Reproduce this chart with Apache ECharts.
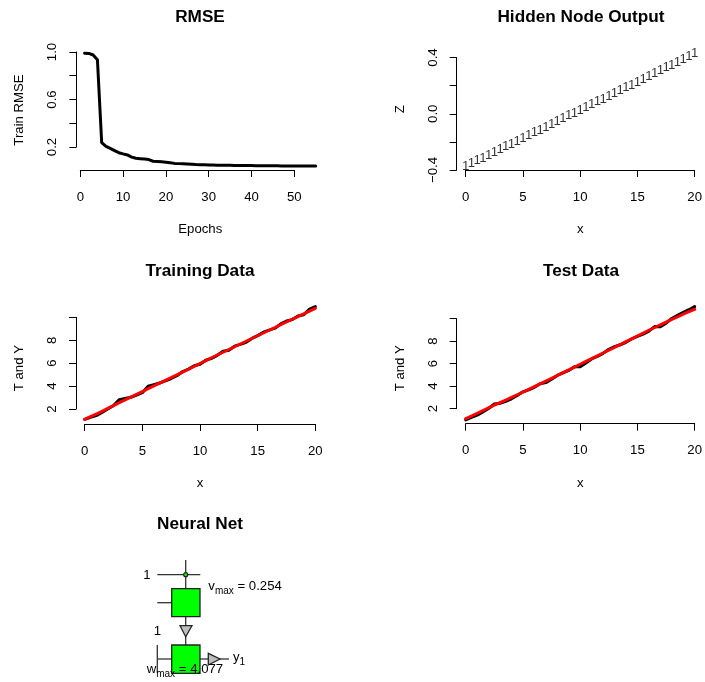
<!DOCTYPE html>
<html><head><meta charset="utf-8">
<style>html,body{margin:0;padding:0;background:#fff}#c{width:705px;height:682px}</style>
<script src="https://cdn.jsdelivr.net/npm/echarts@6/dist/echarts.min.js"></script>
</head><body><div id="c"></div>
<script>
const rmseValues=[0.99,0.988,0.975,0.935,0.236,0.205,0.188,0.17,0.152,0.142,0.133,0.115,0.105,0.102,0.098,0.094,0.08,0.078,0.075,0.072,0.068,0.062,0.06,0.058,0.056,0.054,0.052,0.051,0.05,0.049,0.048,0.047,0.047,0.046,0.046,0.045,0.045,0.044,0.044,0.044,0.043,0.043,0.043,0.042,0.042,0.042,0.041,0.041,0.041,0.041,0.04,0.04,0.04,0.04,0.04];
const xHalfSteps=[0,0.5,1,1.5,2,2.5,3,3.5,4,4.5,5,5.5,6,6.5,7,7.5,8,8.5,9,9.5,10,10.5,11,11.5,12,12.5,13,13.5,14,14.5,15,15.5,16,16.5,17,17.5,18,18.5,19,19.5,20];
const hiddenZ=[-0.375,-0.355,-0.335,-0.315,-0.295,-0.275,-0.255,-0.235,-0.215,-0.195,-0.175,-0.155,-0.135,-0.115,-0.095,-0.075,-0.055,-0.035,-0.015,0.005,0.025,0.045,0.065,0.085,0.105,0.125,0.145,0.165,0.185,0.205,0.225,0.246,0.266,0.286,0.306,0.327,0.347,0.367,0.388,0.408,0.43];
const trainT=[1.10,1.28,1.42,1.70,2.00,2.30,2.82,2.92,3.02,3.22,3.42,3.98,4.12,4.27,4.45,4.66,4.90,5.27,5.48,5.78,5.90,6.25,6.42,6.68,7.03,7.12,7.48,7.64,7.82,8.16,8.40,8.70,8.88,9.05,9.42,9.68,9.80,10.12,10.22,10.72,10.93];
const trainY=[1.10,1.33,1.56,1.80,2.05,2.30,2.55,2.80,3.03,3.27,3.52,3.77,4.02,4.26,4.50,4.74,4.98,5.22,5.47,5.72,5.97,6.22,6.47,6.71,6.95,7.19,7.43,7.67,7.91,8.15,8.39,8.63,8.87,9.11,9.36,9.60,9.83,10.06,10.29,10.53,10.78];
const testT=[1.00,1.22,1.42,1.72,2.02,2.42,2.48,2.65,2.88,3.18,3.50,3.68,3.90,4.22,4.32,4.62,4.96,5.18,5.40,5.72,5.72,6.06,6.42,6.65,6.92,7.28,7.52,7.68,7.90,8.20,8.42,8.62,8.90,9.30,9.28,9.60,10.02,10.30,10.56,10.80,11.07];
const testY=[1.12,1.35,1.59,1.83,2.07,2.31,2.54,2.77,3.00,3.24,3.48,3.72,3.96,4.20,4.45,4.70,4.95,5.20,5.45,5.70,5.95,6.20,6.45,6.70,6.95,7.20,7.45,7.70,7.96,8.21,8.46,8.71,8.97,9.22,9.46,9.70,9.94,10.17,10.40,10.62,10.84];
const titles=['RMSE','Hidden Node Output','Training Data','Test Data','Neural Net'];
const rmseYLabels=[0.2,0.6,1.0];
const hiddenYLabels=[-0.4,0,0.4];
const dataYLabels=[2,4,6,8];
// schematic of the network, in diagram units
const netLines=[[45.7,5,45.7,33.7],[17.3,19.7,60.3,19.7],[17.3,47.7,31.7,47.7],[45.7,61.7,45.7,90],[17.3,90,17.3,118],[17.3,104,31.7,104],[60,104,89,104]];
const netBoxes=[[31.7,33.7,60,61.7],[31.7,90,60,118.3]];
const netTriangles=[[[40,70.7],[52,70.7],[45.7,81.7]],[[68.3,98.3],[68.3,110],[80,104]]];
const netDot=[45.7,19.7];
const netLabels=[
 {p:[3.3,20],t:'1',a:'left'},
 {p:[17.3,76.7],t:'1',a:'center'},
 {p:[93,104],t:'{n|y}{s|1}',a:'left'},
 {p:[68.3,33],t:'{n|v}{s|max}{n| = 0.254}',a:'left'},
 {p:[6.7,116],t:'{n|w}{s|max}{n| = 4.077}',a:'left'}
];

const font='"Liberation Sans",Arial,sans-serif';
const INK='#000';
const pairs=(xs,ys)=>xs.map((x,i)=>[x,ys[i]]);
const rmsePairs=rmseValues.map((v,i)=>[i+1,v]);

function xAxis(i,o){return {gridIndex:i,type:'value',min:o.min,max:o.max,interval:o.interval,offset:o.offset,
  name:o.name,nameLocation:'middle',nameGap:53,
  nameTextStyle:{fontFamily:font,fontSize:13.2,color:INK,padding:o.namePad||0},
  axisLine:{onZero:false,lineStyle:{color:INK,width:1}},
  axisTick:{show:true,length:7,lineStyle:{color:INK,width:1}},
  axisLabel:{show:true,margin:20.5,fontFamily:font,fontSize:13.2,color:INK,showMinLabel:true,showMaxLabel:true,hideOverlap:false},
  splitLine:{show:false}};}
function yAxis(i,o){return {gridIndex:i,type:'value',min:o.min,max:o.max,interval:o.interval,offset:o.offset,
  name:o.name,nameLocation:'middle',nameGap:o.nameGap,nameRotate:90,
  nameTextStyle:{fontFamily:font,fontSize:13.2,color:INK,padding:o.namePad||0},
  axisLine:{onZero:false,lineStyle:{color:INK,width:1}},
  axisTick:{show:true,length:7,lineStyle:{color:INK,width:1}},
  axisLabel:{show:true,rotate:90,margin:17,fontFamily:font,fontSize:13.2,color:INK,formatter:o.fmt,showMinLabel:true,showMaxLabel:true,hideOverlap:false},
  splitLine:{show:false}};}
const line=(i,data,color)=>({type:'line',xAxisIndex:i,yAxisIndex:i,data,showSymbol:false,symbol:'none',clip:false,silent:true,
  smooth:false,lineStyle:{color,width:3,join:'round',cap:'round'},z:color==='#ff0000'?3:2});
const near=(v,list)=>list.some(l=>Math.abs(l-v)<1e-6);

const option={
 animation:false,backgroundColor:'#fff',
 title:[[200,9],[581,9],[200,263],[581,263],[200,516]].map((p,i)=>({text:titles[i],left:p[0],top:p[1],textAlign:'center',padding:0,
   textStyle:{fontFamily:font,fontSize:17.2,fontWeight:'bold',color:INK}})),
 grid:[
  {left:80.3,top:52,width:214,height:95},
  {left:465.7,top:57.5,width:231,height:112.5},
  {left:84.7,top:317.3,width:230.6,height:91.7},
  {left:465.7,top:318.7,width:231,height:90},
  {left:140,top:555,width:100,height:125,show:false},
  {left:80.3,top:52,width:235.4,height:95,show:false}
 ],
 xAxis:[
  xAxis(0,{min:0,max:50,interval:10,offset:23,name:'Epochs',namePad:[0,0,0,26]}),
  xAxis(1,{min:0,max:20,interval:5,offset:0,name:'x'}),
  xAxis(2,{min:0,max:20,interval:5,offset:15,name:'x'}),
  xAxis(3,{min:0,max:20,interval:5,offset:15,name:'x'}),
  {gridIndex:4,type:'value',min:0,max:100,show:false},
  {gridIndex:5,type:'value',min:0,max:55,show:false}
 ],
 yAxis:[
  yAxis(0,{min:0.2,max:1,interval:0.2,offset:4,name:'Train RMSE',nameGap:50,namePad:[0,21,0,0],fmt:v=>near(v,rmseYLabels)?v.toFixed(1):''}),
  yAxis(1,{min:-0.4,max:0.4,interval:0.2,offset:9,name:'Z',nameGap:50,namePad:[0,0,0,9],fmt:v=>near(v,hiddenYLabels)?(v<-1e-9?'\u2212':'')+Math.abs(v).toFixed(1):''}),
  yAxis(2,{min:2,max:10,interval:2,offset:8.7,name:'T and Y',nameGap:50,namePad:[0,10,0,0],fmt:v=>near(v,dataYLabels)?String(v):''}),
  yAxis(3,{min:2,max:10,interval:2,offset:9,name:'T and Y',nameGap:50,namePad:[0,9,0,0],fmt:v=>near(v,dataYLabels)?String(v):''}),
  {gridIndex:4,type:'value',min:0,max:125,inverse:true,show:false},
  {gridIndex:5,type:'value',min:0.2,max:1,show:false}
 ],
 series:[
  line(5,rmsePairs,'#000000'),
  {type:'scatter',xAxisIndex:1,yAxisIndex:1,data:pairs(xHalfSteps,hiddenZ),symbolSize:1,clip:false,silent:true,itemStyle:{color:'transparent'},
   label:{show:true,position:'inside',formatter:'1',fontFamily:font,fontSize:13.2,color:INK}},
  line(2,pairs(xHalfSteps,trainT),'#000000'),
  line(2,pairs(xHalfSteps,trainY),'#ff0000'),
  line(3,pairs(xHalfSteps,testT),'#000000'),
  line(3,pairs(xHalfSteps,testY),'#ff0000'),
  {type:'custom',xAxisIndex:4,yAxisIndex:4,coordinateSystem:'cartesian2d',clip:false,silent:true,z:5,
   data:[0],renderItem:(params,api)=>{
     const c=p=>api.coord(p);
     const kids=[];
     netLines.forEach(l=>{const a=c([l[0],l[1]]),b=c([l[2],l[3]]);
       kids.push({type:'line',shape:{x1:a[0],y1:a[1],x2:b[0],y2:b[1]},style:{stroke:'#333',lineWidth:1.3}});});
     netBoxes.forEach(r=>{const a=c([r[0],r[1]]),b=c([r[2],r[3]]);
       kids.push({type:'rect',shape:{x:a[0],y:a[1],width:b[0]-a[0],height:b[1]-a[1]},style:{fill:'#00ff00',stroke:'#222',lineWidth:1.3}});});
     netTriangles.forEach(t=>{kids.push({type:'polygon',shape:{points:t.map(c)},style:{fill:'#bebebe',stroke:'#222',lineWidth:1.3}});});
     const d=c(netDot);
     kids.push({type:'circle',shape:{cx:d[0],cy:d[1],r:2},style:{fill:'#00ff00',stroke:'#222',lineWidth:1.2}});
     netLabels.forEach(l=>{const p=c(l.p);
       kids.push({type:'text',x:p[0],y:p[1],z2:10,style:{text:l.t,align:l.a,verticalAlign:'middle',fontFamily:font,fontSize:13.2,fill:INK,
         rich:{n:{fontFamily:font,fontSize:13.2,fill:INK,lineHeight:16,verticalAlign:'top'},s:{fontFamily:font,fontSize:10,fill:INK,lineHeight:16,verticalAlign:'bottom',padding:[5,0,0,0]}}}});});
     return {type:'group',children:kids};
   }}
 ]
};
const chart=echarts.init(document.getElementById('c'),null,{renderer:'canvas'});
chart.setOption(option);
</script></body></html>
